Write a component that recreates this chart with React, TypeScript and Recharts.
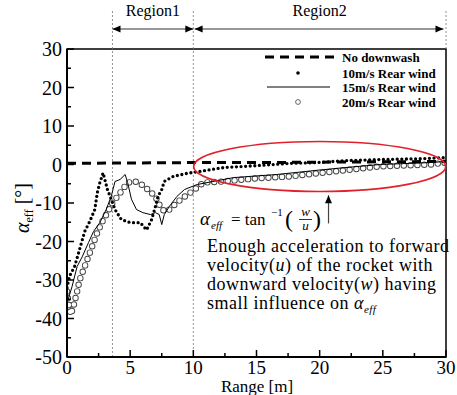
import React from 'react';
import { LineChart, Line, XAxis, YAxis, ReferenceLine, ReferenceArea, ReferenceDot, Legend } from 'recharts';

// ---------- data ----------
const noDownwashX = [0, 5, 10, 15, 20, 25, 30];
const noDownwashY = [0.3, 0.4, 0.5, 0.5, 0.6, 0.7, 0.8];

const wind10X = [0, 0.2, 0.6, 1.0, 1.4, 1.8, 2.2, 2.4, 2.6, 2.86, 3.2, 3.5, 3.8, 4.3, 5.0, 5.8, 6.3, 6.7, 7.0, 7.2, 7.5, 7.7, 8.4, 9.5, 10.5, 12.4, 15, 17.7, 19.8, 22, 25, 28, 30];
const wind10Y = [-32, -29, -26.5, -22, -17.4, -14.8, -11.7, -7.3, -4.7, -2.2, -6.5, -9, -11.7, -14.3, -15.1, -15.1, -17, -14.3, -10.9, -8.3, -6.5, -4.4, -3.1, -2.3, -1.8, -0.8, -0.3, 0.3, 0.5, 1.0, 1.3, 1.5, 1.8];

const wind15X = [0, 0.4, 0.8, 1.2, 1.7, 2.1, 2.6, 3.1, 3.5, 3.8, 4.2, 4.6, 4.8, 5.1, 5.5, 6.0, 6.6, 7.0, 7.3, 7.5, 7.7, 8.1, 8.7, 9.3, 10.3, 13.2, 16.6, 19.8, 22, 24.8, 28.8, 30];
const wind15Y = [-36, -31.7, -26.5, -24, -20.3, -17.4, -15.1, -11.7, -8.3, -4.4, -3.9, -2.6, -4.7, -9, -11.7, -12.5, -13, -12.5, -13, -15.6, -13, -10.9, -8.3, -6.5, -5.2, -3.4, -2.6, -1.5, -0.8, 0, 0.5, 0.8];

const wind20X = [0, 0.1, 0.3, 0.5, 0.8, 1.0, 1.4, 1.8, 2.1, 2.4, 2.8, 3.2, 3.6, 4.0, 4.4, 4.8, 5.4, 5.9, 6.4, 7.0, 7.3, 7.7, 8.1, 8.7, 9.2, 9.9, 10.8, 12.4, 15, 17.7, 19.8, 22, 24.8, 28.8, 30];
const wind20Y = [-33, -35.7, -39, -37, -33, -30, -26.5, -23, -20.3, -17.7, -14.8, -12.5, -9.9, -8.3, -6.5, -4.7, -4.4, -5.2, -6.5, -8.3, -10.4, -12.2, -11.7, -9.9, -8.6, -7, -4.7, -4.4, -3.6, -3.1, -2.3, -1.5, -0.5, 0, 0.5];

const seriesNames = ['No downwash', '10m/s Rear wind', '15m/s Rear wind', '20m/s Rear wind'];

const xMajorTicks = [0, 5, 10, 15, 20, 25, 30];
const xMinorTicks = [2.5, 7.5, 12.5, 17.5, 22.5, 27.5];
const yMajorTicks = [-50, -40, -30, -20, -10, 0, 10, 20, 30];
const yMinorTicks = [-45, -35, -25, -15, -5, 5, 15, 25];

const regionBounds = [3.6, 10, 30];
const regionLabels = ['Region1', 'Region2'];

const toPoints = (xs: number[], ys: number[]) => xs.map((x, i) => ({ x, y: ys[i] }));

const FONT = 'Liberation Serif';

const XTick = (props: any) => {
  const { x, y, payload } = props;
  const v = payload.value;
  const major = xMajorTicks.includes(v);
  return (
    <g>
      <line x1={x} y1={y} x2={x} y2={y - (major ? 7 : 4)} stroke="#000" strokeWidth={1.5} />
      {major && (
        <text x={x} y={y + 17} textAnchor="middle" fontSize={19} fontFamily={FONT} fill="#000">
          {String(v)}
        </text>
      )}
    </g>
  );
};

const YTick = (props: any) => {
  const { x, y, payload } = props;
  const v = payload.value;
  const major = yMajorTicks.includes(v);
  return (
    <g>
      <line x1={x} y1={y} x2={x + (major ? 7 : 4)} y2={y} stroke="#000" strokeWidth={1.5} />
      {major && (
        <text x={x - 5} y={y + 7} textAnchor="end" fontSize={20} fontFamily={FONT} fill="#000">
          {String(v)}
        </text>
      )}
    </g>
  );
};

const arrowShape = (both: boolean) => (p: any) => {
  const { x1, y1, x2, y2 } = p;
  const L = 8, W = 3.5;
  const dx = x2 - x1, dy = y2 - y1;
  const len = Math.sqrt(dx * dx + dy * dy) || 1;
  const ux = dx / len, uy = dy / len;
  const nx = -uy, ny = ux;
  const head = (tx: number, ty: number, dirx: number, diry: number) =>
    `${tx},${ty} ${tx - dirx * L + nx * W},${ty - diry * L + ny * W} ${tx - dirx * L - nx * W},${ty - diry * L - ny * W}`;
  return (
    <g>
      <line x1={x1} y1={y1} x2={x2} y2={y2} stroke={both ? '#333' : '#444'} strokeWidth={1.2} />
      <polygon points={head(x2, y2, ux, uy)} fill="#000" />
      {both && <polygon points={head(x1, y1, -ux, -uy)} fill="#000" />}
    </g>
  );
};

const ellipseShape = (p: any) => (
  <ellipse cx={p.cx} cy={p.cy} rx={126} ry={25} fill="none" stroke="#e3202a" strokeWidth={1.6} />
);

const regionLabelShape = (label: string) => (p: any) => (
  <text x={p.cx} y={p.cy} textAnchor="middle" fontSize={16} fontFamily={FONT} fill="#000">
    {label}
  </text>
);

const LegendContent = () => (
  <svg width={190} height={62} style={{ display: 'block' }}>
    <line x1={3} y1={8} x2={72} y2={8} stroke="#000" strokeWidth={3} strokeDasharray="9 6" />
    <circle cx={36} cy={24} r={1.8} fill="#000" />
    <line x1={5} y1={38} x2={68} y2={38} stroke="#000" strokeWidth={1} />
    <circle cx={36} cy={53} r={2.4} fill="#fff" stroke="#555" strokeWidth={0.9} />
    {seriesNames.map((n, i) => (
      <text key={n} x={80} y={[8, 24, 38, 53][i] + 4.5} fontSize={13} fontWeight="bold" fontFamily={FONT} fill="#000">
        {n}
      </text>
    ))}
  </svg>
);

export default function App() {
  const d0 = toPoints(noDownwashX, noDownwashY);
  const d10 = toPoints(wind10X, wind10Y);
  const d15 = toPoints(wind15X, wind15Y);
  const d20 = toPoints(wind20X, wind20Y);
  const xTicks = [...xMajorTicks, ...xMinorTicks].sort((a, b) => a - b);
  const yTicks = [...yMajorTicks, ...yMinorTicks].sort((a, b) => a - b);
  return (
    <div style={{ position: 'absolute', left: 0, top: 0, width: 457, height: 395, background: '#fff', fontFamily: FONT }}>
      <LineChart width={457} height={395} margin={{ top: 49, right: 11, left: 0, bottom: 0 }} style={{ fontFamily: FONT }}>
        <XAxis
          dataKey="x"
          type="number"
          domain={[0, 30]}
          ticks={xTicks}
          interval={0}
          tickSize={0}
          tickMargin={0}
          tickLine={false}
          tick={<XTick />}
          height={38}
          axisLine={{ stroke: '#000', strokeWidth: 2 }}
          allowDataOverflow
        />
        <YAxis
          type="number"
          domain={[-50, 30]}
          ticks={yTicks}
          interval={0}
          tickSize={0}
          tickMargin={0}
          tickLine={false}
          tick={<YTick />}
          width={67}
          axisLine={{ stroke: '#000', strokeWidth: 2 }}
          allowDataOverflow
        />
        <ReferenceArea x1={0} x2={30} y1={-50} y2={30} fill="none" stroke="#000" strokeWidth={1.5} fillOpacity={0} ifOverflow="visible" />

        {regionBounds.map((b) => (
          <ReferenceLine
            key={'rb' + b}
            segment={[{ x: b, y: b === 30 ? 30 : -50 }, { x: b, y: 40.4 }]}
            stroke="#777"
            strokeWidth={0.8}
            strokeDasharray="2 2"
            ifOverflow="visible"
          />
        ))}
        <ReferenceLine segment={[{ x: regionBounds[0], y: 35.2 }, { x: regionBounds[1], y: 35.2 }]} ifOverflow="visible" shape={arrowShape(true)} />
        <ReferenceLine segment={[{ x: regionBounds[1] + 0.1, y: 35.2 }, { x: regionBounds[2] - 0.2, y: 35.2 }]} ifOverflow="visible" shape={arrowShape(true)} />
        <ReferenceDot x={(regionBounds[0] + regionBounds[1]) / 2} y={38.6} ifOverflow="visible" shape={regionLabelShape(regionLabels[0])} />
        <ReferenceDot x={(regionBounds[1] + regionBounds[2]) / 2} y={38.6} ifOverflow="visible" shape={regionLabelShape(regionLabels[1])} />

        {/* 20 m/s open circles (ring: dark disc + white disc) */}
        <Line data={d20} dataKey="y" type="linear" stroke="#444" strokeWidth={6.4} strokeDasharray="0 6.8" strokeLinecap="round" dot={false} activeDot={false} isAnimationActive={false} legendType="none" />
        <Line data={d20} dataKey="y" type="linear" stroke="#fff" strokeWidth={4.6} strokeDasharray="0 6.8" strokeLinecap="round" dot={false} activeDot={false} isAnimationActive={false} legendType="none" />
        {/* no downwash */}
        <Line data={d0} dataKey="y" type="linear" stroke="#000" strokeWidth={3} strokeDasharray="9 6" dot={false} activeDot={false} isAnimationActive={false} />
        {/* 15 m/s solid */}
        <Line data={d15} dataKey="y" type="linear" stroke="#000" strokeWidth={1} dot={false} activeDot={false} isAnimationActive={false} />
        {/* 10 m/s filled dots */}
        <Line data={d10} dataKey="y" type="linear" stroke="#000" strokeWidth={3.3} strokeDasharray="0 4.6" strokeLinecap="round" dot={false} activeDot={false} isAnimationActive={false} />

        <ReferenceDot x={20} y={-0.5} ifOverflow="visible" shape={ellipseShape} />
        <ReferenceLine segment={[{ x: 20.7, y: -15.3 }, { x: 20.7, y: -8.0 }]} ifOverflow="visible" shape={arrowShape(false)} />

        <Legend
          layout="vertical"
          align="center"
          verticalAlign="middle"
          content={<LegendContent />}
          wrapperStyle={{ left: 262, top: 49, width: 190, height: 62 }}
        />

        {/* axis titles */}
        <text x={257} y={392} textAnchor="middle" fontSize={17} fontFamily={FONT} fill="#000">Range [m]</text>
        <text x={29} y={208} transform="rotate(-90 29 208)" textAnchor="middle" fontSize={20} fontFamily={FONT} fill="#000">
          <tspan fontStyle="italic">α</tspan>
          <tspan fontSize={12} dy={4}>eff</tspan>
          <tspan dy={-4}> [°]</tspan>
        </text>

        {/* formula */}
        <g fontFamily={FONT} fill="#000">
          <text x={200} y={225} fontSize={19} fontStyle="italic">α</text>
          <text x={211} y={229} fontSize={11} fontStyle="italic">eff</text>
          <text x={231} y={225} fontSize={17}>= tan</text>
          <text x={271} y={216} fontSize={11}>−1</text>
          <text x={285} y={227} fontSize={24}>(</text>
          <text x={305.5} y={216} fontSize={13} fontStyle="italic" textAnchor="middle">w</text>
          <line x1={299} y1={219.5} x2={312} y2={219.5} stroke="#000" strokeWidth={0.8} />
          <text x={305.5} y={230} fontSize={13} fontStyle="italic" textAnchor="middle">u</text>
          <text x={313} y={227} fontSize={24}>)</text>
        </g>

        {/* explanation */}
        <g fontFamily={FONT} fill="#000" fontSize={18} letterSpacing={0.5}>
          <text x={207} y={252}>Enough acceleration to forward</text>
          <text x={207} y={271}>velocity(<tspan fontStyle="italic">u</tspan>) of the rocket with</text>
          <text x={207} y={290}>downward velocity(<tspan fontStyle="italic">w</tspan>) having</text>
          <text x={207} y={309}>small influence on <tspan fontStyle="italic">α</tspan><tspan fontStyle="italic" fontSize={11} dy={4}>eff</tspan></text>
        </g>
      </LineChart>
    </div>
  );
}
